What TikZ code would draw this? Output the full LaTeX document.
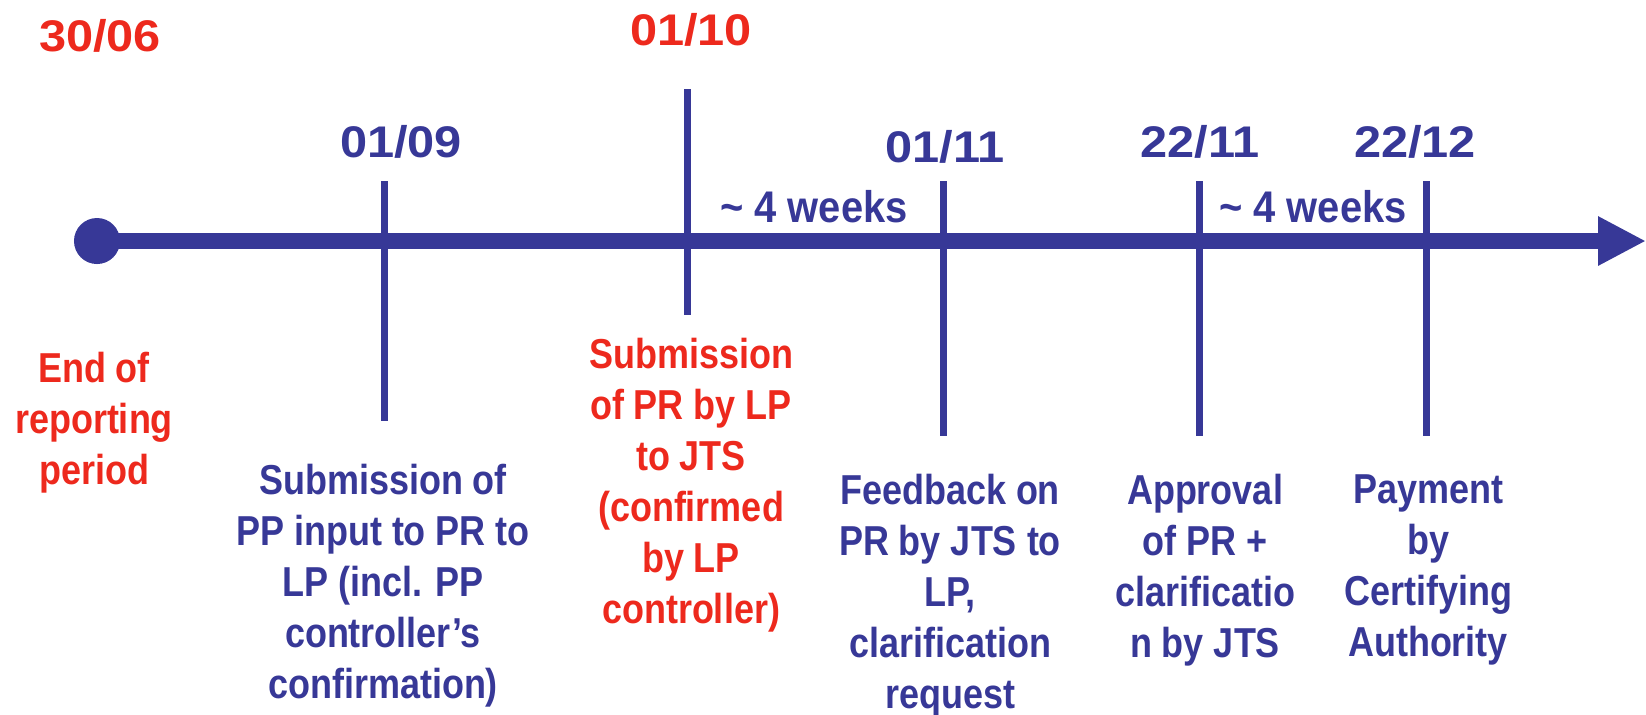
\documentclass[tikz,border=0pt]{standalone}
\usepackage{fontspec}
\setmainfont{Liberation Sans}
\newfontfamily\narrowfont{Liberation Sans}[FakeStretch=0.86]
\newfontfamily\weekfont{Liberation Sans}[FakeStretch=0.90]
\newfontfamily\datefont{Liberation Sans}[FakeStretch=1.10]
\usepackage{tikz}
\usetikzlibrary{arrows.meta}
\usetikzlibrary{positioning}

\definecolor{tlblue}{RGB}{55,56,151}
\definecolor{tlred}{RGB}{237,41,29}

\begin{document}
\begin{tikzpicture}[x=0.01cm,y=-0.01cm,
  axis/.style={tlblue,line width=0.16cm,-{Triangle[length=0.48cm,width=0.46cm]}},
  tick/.style={tlblue,line width=0.07cm},
  dot/.style={circle,fill=tlblue,minimum size=0.46cm,inner sep=0pt},
  date/.style={font=\datefont\bfseries\fontsize{12.6}{14}\selectfont,anchor=base,inner sep=0pt},
  span/.style={font=\weekfont\bfseries\fontsize{12.6}{14}\selectfont,text=tlblue,anchor=base,inner sep=0pt},
  event/.style={font=\narrowfont\bfseries\fontsize{11.9}{14.5}\selectfont,align=center,inner sep=0pt}]
  \useasboundingbox (0,0) rectangle (1646,714);

  % the time line
  \node[dot] (start) at (97,241) {};
  \coordinate (end) at (1646,241);
  \draw[axis] (start.center) -- (end);

  % milestones
  \foreach \x/\t/\b/\n in {384/181/421/sep,687/89/315/oct,943/181/436/nov,1199/181/436/appr,1426/181/436/pay}
  {
    \coordinate (\n top) at (\x,\t);
    \coordinate (\n bot) at (\x,\b);
    \draw[tick] (\n top) -- (\n bot);
  }

  % dates
  \node[date,text=tlred] (d3006) at (100,51) {30/06};
  \node[date,text=tlblue] (d0109) at (401,157) {01/09};
  \node[date,text=tlred] (d0110) at (691,45) {01/10};
  \node[date,text=tlblue] (d0111) at (945,162) {01/11};
  \node[date,text=tlblue] (d2211) at (1200,157) {22/11};
  \node[date,text=tlblue] (d2212) at (1415,157) {22/12};
  \node[span] (wk1) at (814,222) {\textasciitilde{} 4 weeks};
  \node[span] (wk2) at (1313,222) {\textasciitilde{} 4 weeks};

  % what happens
  \node[event,text=tlred] (eop) at (94,423) {End of\\reporting\\period};
  \node[event,text=tlblue] (ppin) at (383,586) {Submission of\\PP input to PR to\\LP (incl. PP\\controller’s\\confirmation)};
  \node[event,text=tlred] (prsub) at (691,485) {Submission\\of PR by LP\\to JTS\\(confirmed\\by LP\\controller)};
  \node[event,text=tlblue] (fback) at (950,596) {Feedback on\\PR by JTS to\\LP,\\clarification\\request};
  \node[event,text=tlblue] (apprtxt) at (1205,570) {Approval\\of PR +\\clarificatio\\n by JTS};
  \node[event,text=tlblue] (paytxt) at (1428,570) {Payment\\by\\Certifying\\Authority};
\end{tikzpicture}
\end{document}
